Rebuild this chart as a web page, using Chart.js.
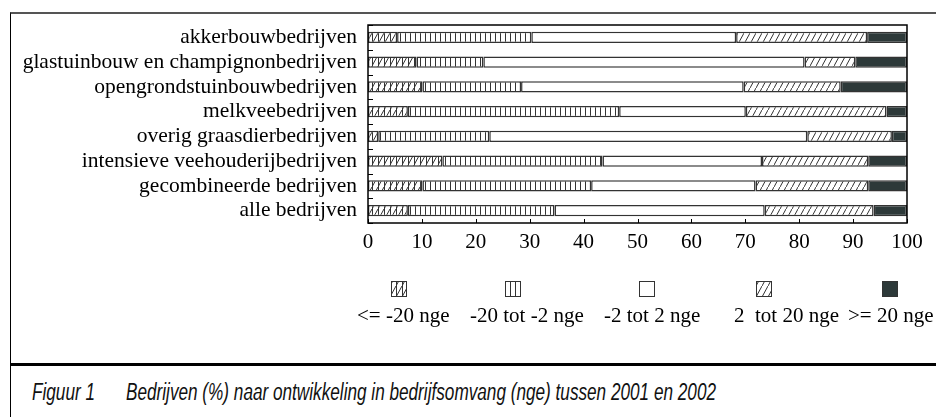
<!DOCTYPE html>
<html>
<head>
  <meta charset="UTF-8">
  <title>Bedrijven naar ontwikkeling in bedrijfsomvang</title>
  <script src="https://cdn.jsdelivr.net/npm/chart.js"></script>
  <style>
    body {
      margin: 0;
      background: #fff;
    }
    .figuur {
      position: relative;
      width: 936px;
      height: 417px;
      overflow: hidden;
    }
    .kader {
      position: absolute;
      left: 10px;
      top: 12px;
      width: 926px;
      height: 405px;
      border-top: 2px solid #555;
      border-left: 1px solid #000;
    }
    .scheiding {
      position: absolute;
      left: 10px;
      top: 363px;
      width: 926px;
      border-top: 3px solid #000;
    }
    .chart-container {
      position: absolute;
      left: 0;
      top: 0;
      width: 936px;
      height: 340px;
    }
    .onderschrift {
      position: absolute;
      top: 381px;
      font-family: "Liberation Sans", Arial, sans-serif;
      font-style: italic;
      font-size: 23px;
      line-height: 23px;
      color: #111;
      white-space: pre;
      transform-origin: left top;
    }
  </style>
</head>
<body>
  <div class="figuur">
    <div class="kader"></div>
    <div class="scheiding"></div>
    <div class="chart-container">
      <canvas id="omvangChart"></canvas>
    </div>
    <div class="onderschrift" id="figNr" style="left: 32px;">Figuur 1</div>
    <div class="onderschrift" id="figTitel" style="left: 126px;">Bedrijven (%) naar ontwikkeling in bedrijfsomvang (nge) tussen 2001 en 2002</div>
  </div>

  <script>
    // categorieen (van boven naar beneden)
    const bedrijfstypen = [
      'akkerbouwbedrijven',
      'glastuinbouw en champignonbedrijven',
      'opengrondstuinbouwbedrijven',
      'melkveebedrijven',
      'overig graasdierbedrijven',
      'intensieve veehouderijbedrijven',
      'gecombineerde bedrijven',
      'alle bedrijven'
    ];

    const klassen = ['<= -20 nge', '-20 tot -2 nge', '-2 tot 2 nge', '2  tot 20 nge', '>= 20 nge'];

    // percentages per klasse
    const sterkeKrimp = [5.4, 9.0, 10.1, 7.4, 1.9, 13.8, 10.1, 7.4];
    const krimp       = [24.9, 12.4, 18.3, 39.2, 20.6, 29.7, 31.3, 27.2];
    const stabiel     = [38.0, 59.6, 41.3, 23.5, 59.0, 29.6, 30.5, 39.0];
    const groei       = [24.3, 9.4, 18.0, 26.1, 15.7, 19.7, 20.9, 20.2];
    const sterkeGroei = [7.4, 9.6, 12.3, 3.8, 2.8, 7.2, 7.2, 6.2];

    const asTicks = [0, 10, 20, 30, 40, 50, 60, 70, 80, 90, 100];

    const lijnKleur = '#333';
    const donker = '#2d3939';
    const serif = '"Liberation Serif", "Times New Roman", serif';

    // onderschrift smaller maken (smal schreefloos lettertype)
    const titel = document.getElementById('figTitel');
    const smal = 590 / titel.getBoundingClientRect().width;
    ['figNr', 'figTitel'].forEach(id => {
      document.getElementById(id).style.transform = 'scaleX(' + smal + ')';
    });

    // arceringen
    function maakPatroon(w, h, tekenFn) {
      const c = document.createElement('canvas');
      c.width = w;
      c.height = h;
      const g = c.getContext('2d');
      g.fillStyle = '#fff';
      g.fillRect(0, 0, w, h);
      g.strokeStyle = lijnKleur;
      g.lineWidth = 1;
      tekenFn(g, w, h);
      return g.createPattern(c, 'repeat');
    }

    const patroonKruis = maakPatroon(6, 11, (g, w, h) => {
      g.beginPath();
      g.moveTo(0.5, 0); g.lineTo(0.5, h);
      g.moveTo(0, h); g.lineTo(w, 0);
      g.stroke();
    });
    const patroonVerticaal = maakPatroon(5, 4, (g, w, h) => {
      g.beginPath();
      g.moveTo(0.5, 0); g.lineTo(0.5, h);
      g.stroke();
    });
    const patroonDiagonaal = maakPatroon(6, 11, (g, w, h) => {
      g.beginPath();
      g.moveTo(0, h); g.lineTo(w, 0);
      g.stroke();
    });

    const vullingen = [patroonKruis, patroonVerticaal, '#fff', patroonDiagonaal, donker];
    const reeksen = [sterkeKrimp, krimp, stabiel, groei, sterkeGroei];

    const datasets = reeksen.map((waarden, i) => ({
      label: klassen[i],
      data: waarden,
      backgroundColor: vullingen[i],
      borderColor: lijnKleur,
      borderWidth: 1.5,
      borderSkipped: false,
      categoryPercentage: 1,
      barPercentage: 0.46
    }));

    // kader om plotgebied + naar binnen gerichte streepjes
    const kaderPlugin = {
      id: 'kader',
      afterDatasetsDraw(chart) {
        const { ctx, chartArea: a, scales } = chart;
        ctx.save();
        ctx.strokeStyle = '#000';
        ctx.lineWidth = 1.5;
        ctx.strokeRect(a.left, a.top, a.right - a.left, a.bottom - a.top);
        ctx.lineWidth = 1;
        ctx.beginPath();
        asTicks.forEach(v => {
          const x = Math.round(scales.x.getPixelForValue(v)) + 0.5;
          ctx.moveTo(x, a.bottom);
          ctx.lineTo(x, a.bottom - 4);
        });
        const n = bedrijfstypen.length;
        for (let i = 0; i <= n; i++) {
          const y = Math.round(scales.y.getPixelForValue(i - 0.5)) + 0.5;
          ctx.moveTo(a.left, y);
          ctx.lineTo(a.left + 5, y);
        }
        ctx.stroke();
        ctx.restore();
      }
    };

    // legenda: symbool boven de tekst
    const symboolMidden = [399, 513, 647, 764, 890];
    const tekstLinks = [357, 470, 604, 734, 848];
    const legendaPlugin = {
      id: 'legendaOnder',
      afterDraw(chart) {
        const ctx = chart.ctx;
        ctx.save();
        ctx.font = '21px ' + serif;
        ctx.textAlign = 'left';
        ctx.textBaseline = 'alphabetic';
        chart.data.datasets.forEach((ds, i) => {
          const cx = symboolMidden[i];
          ctx.fillStyle = ds.backgroundColor;
          ctx.fillRect(cx - 7.5, 281.5, 15, 15);
          ctx.strokeStyle = lijnKleur;
          ctx.lineWidth = 1;
          ctx.strokeRect(cx - 7.5, 281.5, 15, 15);
          ctx.fillStyle = '#000';
          ctx.fillText(ds.label, tekstLinks[i], 322);
        });
        ctx.restore();
      }
    };

    const ctx = document.getElementById('omvangChart').getContext('2d');
    const omvangChart = new Chart(ctx, {
      type: 'bar',
      data: {
        labels: bedrijfstypen,
        datasets: datasets
      },
      options: {
        indexAxis: 'y',
        responsive: true,
        maintainAspectRatio: false,
        animation: false,
        layout: {
          padding: { top: 25, right: 29, bottom: 0, left: 0 }
        },
        scales: {
          x: {
            stacked: true,
            min: 0,
            max: 100,
            afterBuildTicks: s => { s.ticks = asTicks.map(v => ({ value: v })); },
            afterFit: s => { s.height = 117; },
            grid: { display: false, drawTicks: false },
            border: { display: false },
            ticks: {
              padding: 7,
              color: '#000',
              maxRotation: 0,
              font: { family: serif, size: 21 }
            }
          },
          y: {
            stacked: true,
            afterFit: s => { s.width = 368; },
            grid: { display: false, drawTicks: false },
            border: { display: false },
            ticks: {
              autoSkip: false,
              padding: 11,
              color: '#000',
              font: { family: serif, size: 21.5 }
            }
          }
        },
        plugins: {
          legend: { display: false },
          tooltip: { enabled: false }
        }
      },
      plugins: [kaderPlugin, legendaPlugin]
    });
  </script>
</body>
</html>
